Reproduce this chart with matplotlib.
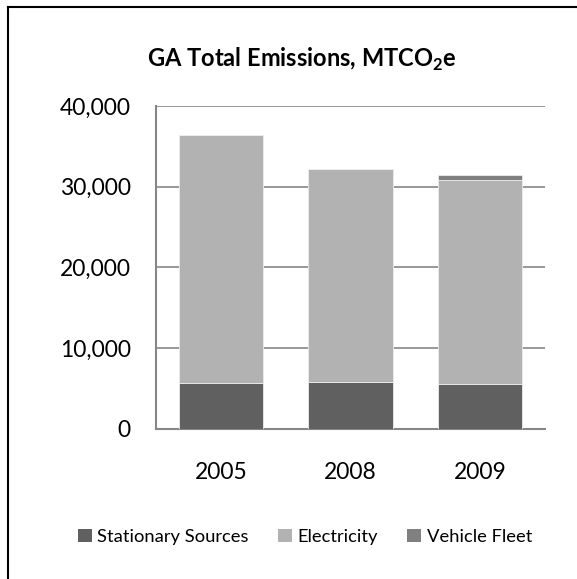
import matplotlib
matplotlib.use("Agg")
import matplotlib.pyplot as plt
from matplotlib.lines import Line2D
from matplotlib.ticker import FuncFormatter
import numpy as np

plt.rcParams['font.family'] = ['Lato', 'DejaVu Sans']
plt.rcParams['mathtext.fontset'] = 'custom'
plt.rcParams['mathtext.rm'] = 'Lato'
plt.rcParams['mathtext.bf'] = 'Lato:bold'

years = ['2005', '2008', '2009']
stationary = [5700, 5820, 5540]
electricity = [30730, 26400, 25240]
vehicle = [0, 0, 660]
series_names = ['Stationary Sources', 'Electricity', 'Vehicle Fleet']
colors = ['#606060', '#b2b2b2', '#808080']
yticks = [0, 10000, 20000, 30000, 40000]

fig = plt.figure(figsize=(5.77, 5.79), dpi=100)
ax = fig.add_axes([156/577, 1-428.7/579, (545-156)/577, (428.7-106)/579])

x = np.arange(len(years))
bottom = np.zeros(len(years))
for vals, name, c in zip([stationary, electricity, vehicle], series_names, colors):
    ax.bar(x, vals, width=0.65, bottom=bottom, color=c, label=name,
           edgecolor='#ececec', linewidth=0.6, zorder=3)
    bottom += np.array(vals)

ax.set_ylim(0, 40000)
ax.set_xlim(-0.5, 2.5)
ax.set_yticks(yticks)
ax.yaxis.set_major_formatter(FuncFormatter(lambda v, p: f'{int(v):,}'))
ax.set_xticks(x)
ax.set_xticklabels(years)
ax.tick_params(axis='both', length=0, labelsize=16.5, colors='black')
ax.tick_params(axis='y', pad=18)
ax.tick_params(axis='x', pad=24)
ax.grid(axis='y', color='#868686', linewidth=1.2, zorder=0)
for s in ['top', 'right']:
    ax.spines[s].set_visible(False)
for s in ['left', 'bottom']:
    ax.spines[s].set_color('#868686')
    ax.spines[s].set_linewidth(1.5)

fig.text(302/577, 1-59/579, r'GA Total Emissions, MTCO$_\mathbf{2}$e',
         ha='center', va='center', fontsize=17, fontweight='bold')

handles, labels = ax.get_legend_handles_labels()
leg = fig.legend(handles, labels, loc='center', bbox_to_anchor=(305/577, 1-537/579),
                 ncol=3, frameon=False, fontsize=13.2, handlelength=0.75, handleheight=0.75,
                 handletextpad=0.3, columnspacing=1.6)
for h in leg.legend_handles:
    h.set_edgecolor('none')

fig.add_artist(Line2D([8/577, 8/577], [0, 1-7/579], color='black', lw=1.5, transform=fig.transFigure))
fig.add_artist(Line2D([8/577, 1], [1-7/579, 1-7/579], color='black', lw=1.5, transform=fig.transFigure))

fig.savefig('out.png', dpi=100)
